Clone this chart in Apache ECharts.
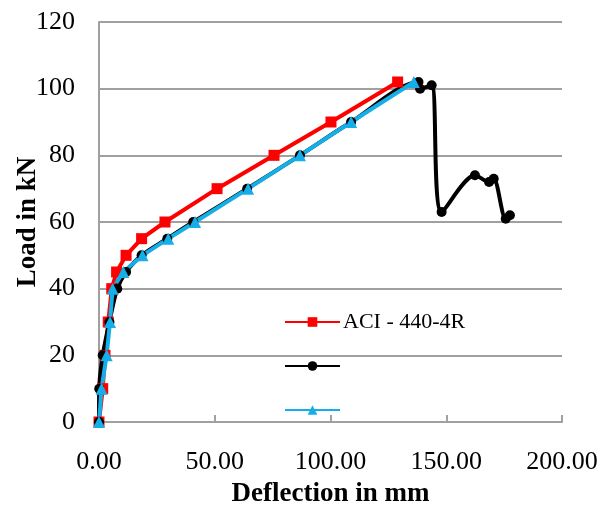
<!DOCTYPE html>
<html><head><meta charset="utf-8">
<script src="https://cdn.jsdelivr.net/npm/echarts@6/dist/echarts.min.js"></script>
<style>html,body{margin:0;padding:0;background:#fff}#c{width:598px;height:506px}</style>
</head><body><div id="c"></div>
<script>
const seriesNames = ['ACI - 440-4R', 'Experimental', 'FEM'];
const aciX = [0, 1.6, 2.6, 4.0, 5.5, 7.6, 11.7, 18.4, 28.5, 51, 75.6, 100.2, 129];
const aciY = [0, 10, 20, 30, 40, 45, 50, 55, 60, 70, 80, 90, 102];
const expX = [0, 0.1, 1.6, 4.5, 7.9, 11.7, 18.4, 29.5, 40.7, 64, 86.8, 108.9, 138, 138.7, 143.7, 148, 162.4, 168.5, 170.5, 175.7, 177.5];
const expY = [0, 10, 20, 30, 40, 45, 50, 55, 60, 70, 80, 90, 102, 100, 101, 63, 74, 72, 73, 61, 62];
const femX = [0, 1.1, 3.3, 4.75, 5.9, 10.5, 18.8, 29.9, 41.5, 64.4, 86.8, 108.9, 136];
const femY = [0, 10, 20, 30, 40, 45, 50, 55, 60, 70, 80, 90, 102];
const yTicks = [0, 20, 40, 60, 80, 100, 120];
const xTicks = [0, 50, 100, 150, 200];

const zip = (xs, ys) => xs.map((x, i) => [x, ys[i]]);
const font = 'Liberation Serif, Times New Roman, serif';
const legendTops = [311, 360, 404];
const chart = echarts.init(document.getElementById('c'));
chart.setOption({
  animation: false,
  textStyle: { fontFamily: font },
  grid: { left: 99, right: 36, top: 22, bottom: 84, containLabel: false, outerBoundsMode: 'none' },
  xAxis: {
    type: 'value', min: xTicks[0], max: xTicks[xTicks.length - 1], interval: 50,
    name: 'Deflection in mm', nameLocation: 'middle', nameGap: 59, nameMoveOverlap: false,
    nameTextStyle: { fontFamily: font, fontSize: 27, fontWeight: 'bold', color: '#000' },
    axisLine: { show: true, lineStyle: { color: '#a0a0a0', width: 2 } },
    axisTick: { show: true, inside: true, length: 7, lineStyle: { color: '#a0a0a0', width: 2 } },
    splitLine: { show: false },
    axisLabel: { fontFamily: font, fontSize: 26, color: '#000', margin: 27, formatter: v => v.toFixed(2) }
  },
  yAxis: {
    type: 'value', min: yTicks[0], max: yTicks[yTicks.length - 1], interval: 20,
    name: 'Load in kN', nameLocation: 'middle', nameGap: 57, nameMoveOverlap: false,
    nameTextStyle: { fontFamily: font, fontSize: 27, fontWeight: 'bold', color: '#000' },
    axisLine: { show: true, lineStyle: { color: '#a0a0a0', width: 2 } },
    axisTick: { show: false },
    splitLine: { show: true, lineStyle: { color: '#a0a0a0', width: 2 } },
    axisLabel: { fontFamily: font, fontSize: 26, color: '#000', margin: 24 }
  },
  legend: seriesNames.map((n, i) => ({
    orient: 'vertical', left: 284, top: legendTops[i], padding: 0,
    itemWidth: 55, itemHeight: 12, data: [n],
    formatter: s => s === seriesNames[0] ? s : '',
    textStyle: { fontFamily: font, fontSize: 22, color: '#000', padding: [0, 0, 0, -2] }
  })),
  series: [
    { name: seriesNames[0], type: 'line', data: zip(aciX, aciY), symbol: 'rect', symbolSize: 11,
      lineStyle: { color: '#ff0000', width: 4 }, itemStyle: { color: '#ff0000' } },
    { name: seriesNames[1], type: 'line', data: zip(expX, expY), symbol: 'circle', symbolSize: 10, smooth: 0.3,
      lineStyle: { color: '#000000', width: 4 }, itemStyle: { color: '#000000' } },
    { name: seriesNames[2], type: 'line', data: zip(femX, femY), symbol: 'triangle', symbolSize: 12,
      lineStyle: { color: '#14aee8', width: 4 }, itemStyle: { color: '#14aee8' } }
  ]
});
</script></body></html>
